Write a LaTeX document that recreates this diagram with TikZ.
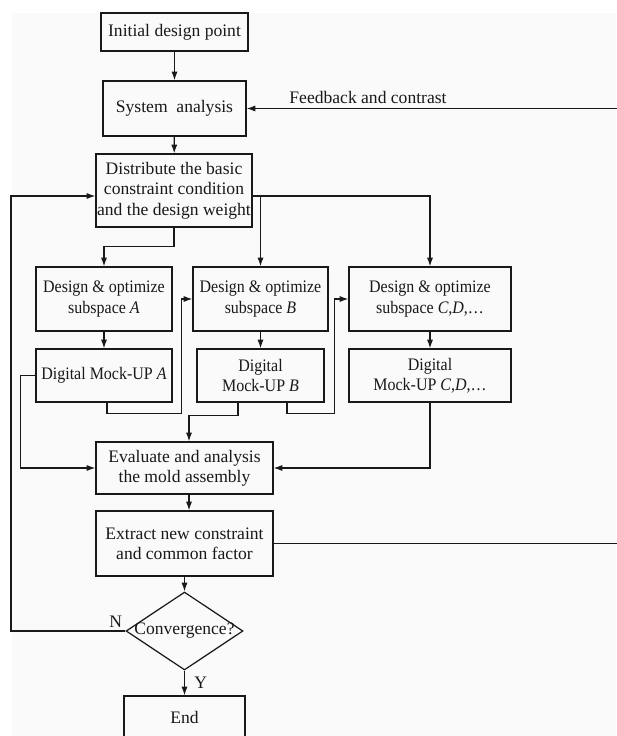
\documentclass[tikz,border=0pt]{standalone}
\usepackage{fontspec}
\setmainfont{Liberation Serif}
\newfontfamily\narrowserif{Liberation Serif}[FakeStretch=0.91]
\usetikzlibrary{arrows.meta,shapes.geometric,calc}
\tikzset{
  box/.style={draw, align=center, inner sep=0pt, font=\fontsize{10}{11.6}\selectfont},
  subbox/.style={box, font=\narrowserif\fontsize{10}{11.6}\selectfont},
  cond/.style={draw, diamond, aspect=1.5, inner sep=-1pt, minimum width=2.34cm, minimum height=1.56cm, font=\fontsize{10}{11.6}\selectfont}
}
\begin{document}
\begin{tikzpicture}[x=0.02cm, y=-0.02cm, line width=0.7pt, >={Latex[length=5pt,width=3.5pt]}]
\useasboundingbox (0,0) rectangle (616,736);
\fill[black!2] (12,13) rectangle (616,736);
\color{black!90}
% main column
\draw (174.5,32) node[box, minimum width=2.94cm, minimum height=0.76cm](init){Initial design point};
\draw (174.5,108.5) node[box, minimum width=2.86cm, minimum height=1.1cm](sys){System~ analysis};
\draw (174,190.5) node[box, minimum width=3.12cm, minimum height=1.46cm](dist){Distribute the basic\\constraint condition\\and the design weight};
\draw (368,97) node[font=\fontsize{10}{11.6}\selectfont](fbtxt){Feedback and contrast};
% subspaces
\draw (104,299) node[subbox, minimum width=2.72cm, minimum height=1.28cm](subA){Design \& optimize\\subspace \textit{A}};
\draw (260.5,299) node[subbox, minimum width=2.7cm, minimum height=1.28cm](subB){Design \& optimize\\subspace \textit{B}};
\draw (430,299) node[subbox, minimum width=3.24cm, minimum height=1.28cm](subC){Design \& optimize\\subspace \textit{C},\textit{D},…};
\draw (104,375.5) node[subbox, minimum width=2.72cm, minimum height=1.06cm](dmuA){Digital Mock-UP \textit{A}};
\draw (260.5,375.5) node[subbox, minimum width=2.54cm, minimum height=1.06cm](dmuB){Digital\\Mock-UP \textit{B}};
\draw (430,375.5) node[subbox, minimum width=3.24cm, minimum height=1.06cm](dmuC){Digital\\Mock-UP \textit{C},\textit{D},…};
% evaluation
\draw (184.5,468) node[box, minimum width=3.54cm, minimum height=1.04cm](eval){Evaluate and analysis\\the mold assembly};
\draw (184.5,543.5) node[box, minimum width=3.54cm, minimum height=1.3cm](extr){Extract new constraint\\and common factor};
\draw (184.5,631) node[cond](conv){Convergence?};
\draw (184.5,717) node[box, minimum width=2.42cm, minimum height=0.84cm](end){End};
\coordinate (rt) at (622,0);
\coordinate (lft) at (11,0);
% connectors
\draw[->] (init) -- (sys);
\draw[->] (sys) -- (dist);
\draw[->] (extr.east) -- (extr.east -| rt) |- (sys.east);
\draw[->] (dist.south) -- ++(0,19) -| (subA.north);
\draw[->] ($(dist.east)+(0,5.5)$) -| (subB.north);
\draw[->] ($(dist.east)+(0,5.5)$) -| (subC.north);
\foreach \s in {A,B,C} {\draw[->] (sub\s) -- (dmu\s);}
\draw[->] ($(dmuA.south)+(3,0)$) -- ++(0,11) -| ($(subB.west)+(-11,0)$) -- (subB.west);
\draw[->] ($(dmuB.south)+(26.5,0)$) -- ++(0,11) -| ($(subC.west)+(-14,0)$) -- (subC.west);
\draw[->] ($(dmuB.south)+(-22.5,0)$) -- ++(0,13) -| ($(eval.north)+(4.5,0)$);
\draw[->] (dmuA.west) -- ++(-15,0) |- (eval.west);
\draw[->] (dmuC.south) |- (eval.east);
\draw[->] ($(eval.south)+(4.5,0)$) -- ($(extr.north)+(4.5,0)$);
\draw[->] (extr) -- (conv);
\draw[->] (conv) -- node[right=2pt, font=\fontsize{10}{11.6}\selectfont](ylab){Y} (end);
\draw[->] (conv.west) node[above left, inner sep=1.5pt, font=\fontsize{10}{11.6}\selectfont](nlab){N}
  -- (conv.west -| lft) |- ($(dist.west)+(0,5.5)$);
\end{tikzpicture}
\end{document}
